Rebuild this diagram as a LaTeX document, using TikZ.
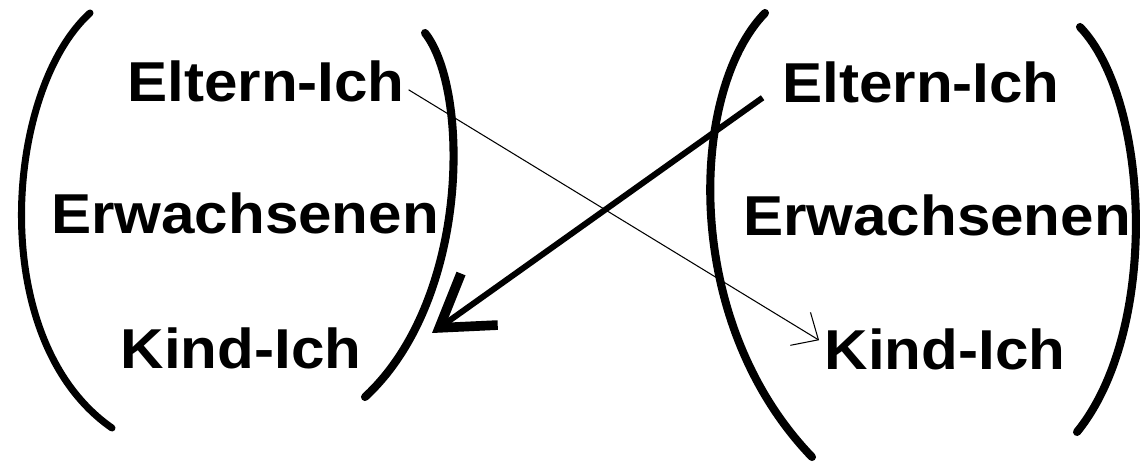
\documentclass[tikz,border=0pt]{standalone}
\usepackage{fontspec}
\setmainfont{Liberation Sans}[FakeStretch=1.07]
\usetikzlibrary{arrows.meta}

\begin{document}
\begin{tikzpicture}[x=0.02cm, y=-0.02cm,
    ego/.style={font=\fontsize{32}{38}\selectfont\bfseries, inner sep=0pt},
    paren/.style={line width=4.6pt, line cap=round},
    thin/.style={line width=0.6pt, -{Straight Barb[length=12pt,width=22pt]}},
    thick/.style={line width=3.4pt, -{Straight Barb[length=28pt,width=36pt,line width=5.5pt]}}
]
\useasboundingbox (0,0) rectangle (1143,462);

% left person
\node[ego] (eltL) at (266, 81) {Eltern-Ich};
\node[ego] (erwL) at (245, 213) {Erwachsenen};
\node[ego] (kindL) at (241, 348) {Kind-Ich};
\draw[paren, line width=4pt] (90,13) .. controls (5,90) and (-15,340) .. (112,428);
\draw[paren] (425,33) .. controls (470,90) and (470,300) .. (365,397);

% right person
\node[ego] (eltR) at (921, 82) {Eltern-Ich};
\node[ego] (erwR) at (937, 215) {Erwachsenen};
\node[ego] (kindR) at (945, 349) {Kind-Ich};
\draw[paren] (765,13) .. controls (690,90) and (680,320) .. (812,457);
\draw[paren] (1080,27) .. controls (1150,100) and (1160,330) .. (1077,432);

% transactions
\coordinate (hit) at (432,333);
\draw[thin] ([xshift=2pt,yshift=-5pt]eltL.east) -- ([xshift=-3pt,yshift=5pt]kindR.west);
\draw[thick] ([xshift=-11pt,yshift=3pt]eltR.south west) -- (hit);
\end{tikzpicture}
\end{document}
